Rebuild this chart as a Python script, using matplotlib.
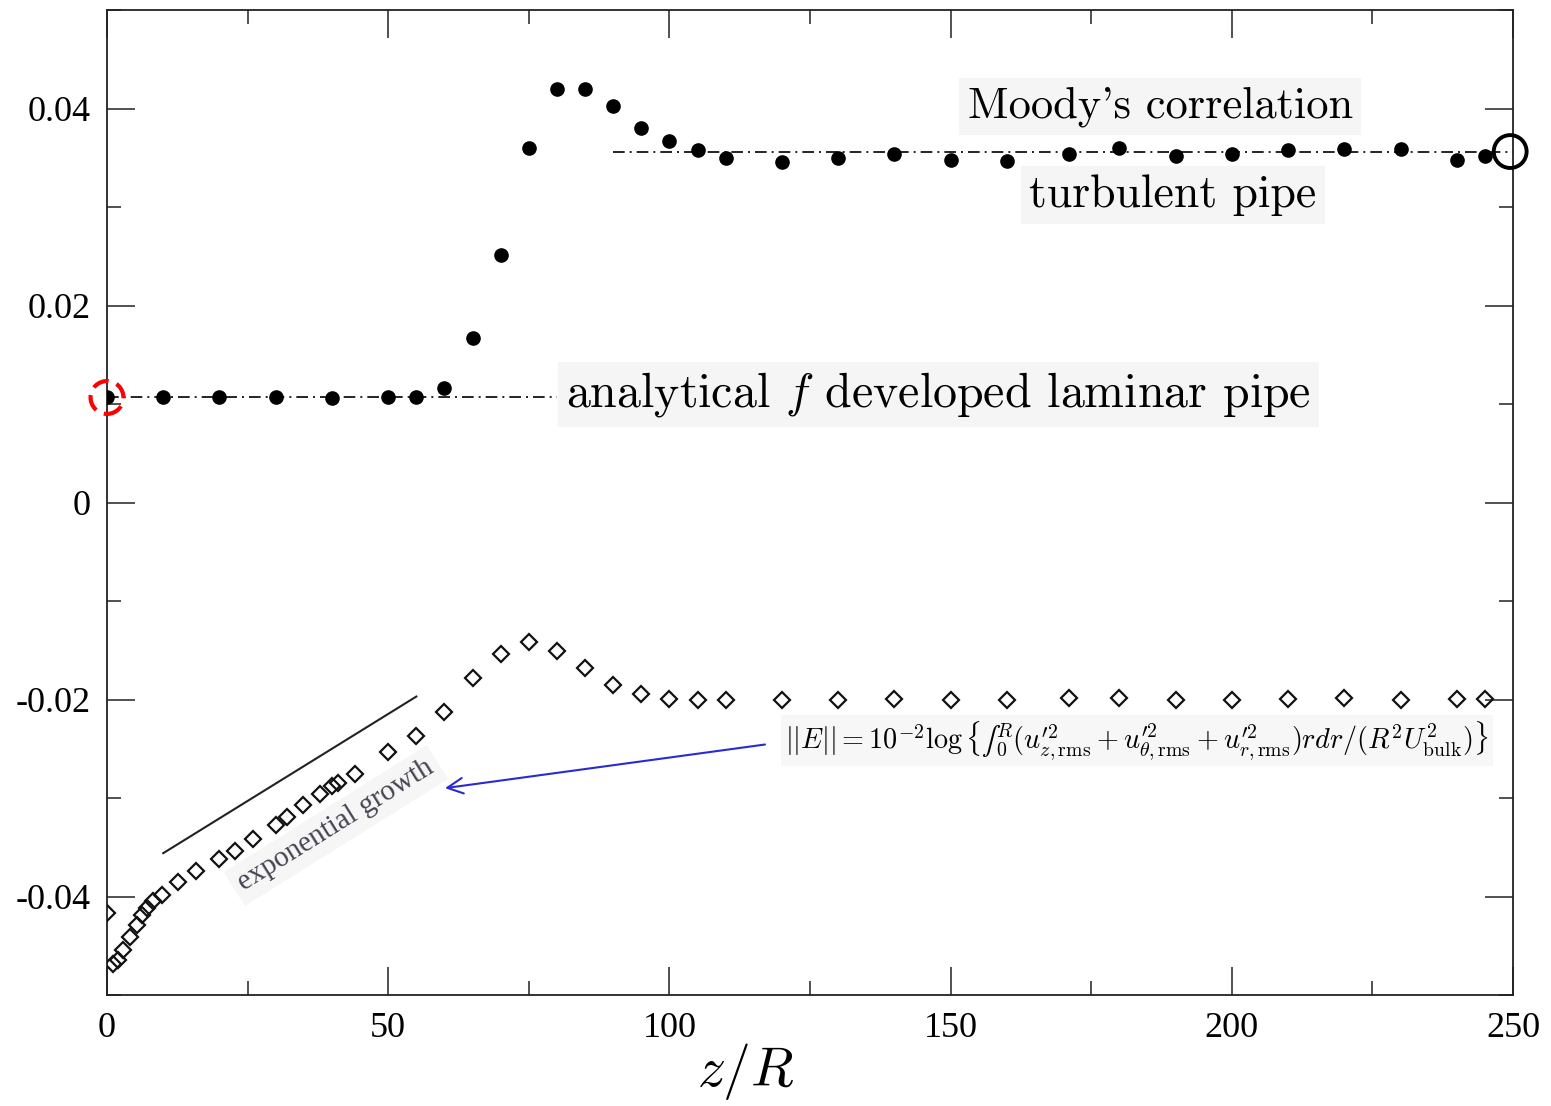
import numpy as np
import matplotlib
matplotlib.use("Agg")
import matplotlib.pyplot as plt
from matplotlib.ticker import MultipleLocator

plt.rcParams['mathtext.fontset'] = 'cm'

# friction factor (filled dots)
z_f = [0, 10, 20, 30, 40, 50, 55, 60, 65, 70, 75, 80, 85, 90, 95, 100, 105, 110,
       120, 130, 140, 150, 160, 171, 180, 190, 200, 210, 220, 230, 240, 245]
f_vals = [0.01066, 0.01066, 0.01066, 0.01066, 0.01056, 0.01066, 0.01076, 0.01167,
          0.01665, 0.02508, 0.03594, 0.04203, 0.04193, 0.04030, 0.03797, 0.03665,
          0.03574, 0.03502, 0.03452, 0.03502, 0.03533, 0.03482, 0.03472, 0.03543,
          0.03604, 0.03513, 0.03533, 0.03574, 0.03584, 0.03584, 0.03482, 0.03513]

# energy norm (open diamonds)
z_e = [0, 1.0, 2.0, 2.9, 4.1, 5.3, 6.2, 7.1, 8.2, 9.7, 12.7, 15.8, 20, 22.8, 25.9,
       30, 32, 34.9, 37.9, 40, 41, 44.1, 50, 55, 60, 65, 70, 75, 80, 85, 90, 95,
       100, 105, 110, 120, 130, 140, 150, 160, 171, 180, 190, 200, 210, 220, 230,
       240, 245]
e_vals = [-0.0417, -0.0469, -0.0464, -0.0454, -0.0441, -0.0429, -0.0419, -0.0412,
          -0.0405, -0.0398, -0.0385, -0.0374, -0.0362, -0.0354, -0.0342, -0.0327,
          -0.0319, -0.0307, -0.0296, -0.0288, -0.0285, -0.0276, -0.0253, -0.0237,
          -0.0213, -0.0178, -0.0154, -0.0142, -0.0151, -0.0168, -0.0185, -0.0194,
          -0.0199, -0.0200, -0.0201, -0.0201, -0.0201, -0.0199, -0.0201, -0.0200,
          -0.0198, -0.0198, -0.0200, -0.0200, -0.0199, -0.0198, -0.0200, -0.0199,
          -0.0199]

# reference levels
f_laminar = 0.01066
f_moody = 0.03563
laminar_range = [0, 80]
moody_range = [90, 250]
growth_z = [10, 55]
growth_y = [-0.0356, -0.0197]

xticks = [0, 50, 100, 150, 200, 250]
xtick_labels = ['0', '50', '100', '150', '200', '250']
yticks = [0.04, 0.02, 0, -0.02, -0.04]
ytick_labels = ['0.04', '0.02', '0', '-0.02', '-0.04']

fig = plt.figure(figsize=(15.51, 11.06), dpi=100)
ax = fig.add_axes([107/1551, 1 - 995/1106, 1406/1551, 985/1106])

dashdot = (0, (7, 3, 1.2, 3))
ax.plot(laminar_range, [f_laminar, f_laminar], color='black', lw=1.2, linestyle=dashdot)
ax.plot(moody_range, [f_moody, f_moody], color='black', lw=1.2, linestyle=dashdot)
ax.plot(growth_z, growth_y, color='#222222', lw=1.5)

ax.plot(z_f, f_vals, 'o', color='black', ms=9.5, zorder=5)
ax.plot(z_e, e_vals, 'D', mfc='none', mec='#111111', mew=1.6, ms=8.3, zorder=5)

# highlighted end points
ax.scatter([0], [f_laminar], s=560, facecolors='none', edgecolors='red',
           linewidths=3, linestyle=(0, (4, 2)), zorder=6, clip_on=False)
ax.scatter([249.5], [f_moody], s=560, facecolors='none', edgecolors='black',
           linewidths=2.8, zorder=6, clip_on=False)

box = dict(facecolor='#f5f5f5', edgecolor='none', pad=6)
ax.text(187.3, 0.0402, "Moody's correlation", family='cmr10', fontsize=32,
        ha='center', va='center', bbox=box)
ax.text(189.5, 0.0312, 'turbulent pipe', family='cmr10', fontsize=33,
        ha='center', va='center', bbox=box)
ax.text(81.6, 0.0110, r'analytical $f$ developed laminar pipe', family='cmr10',
        fontsize=34.5, ha='left', va='center', bbox=box)

ax.text(120.6, -0.0242,
        r'$||E|| = 10^{-2}\log\{∫_0^R(u^{\prime 2}_{z,\mathrm{rms}}+u^{\prime 2}_{\theta,\mathrm{rms}}'
        r'+u^{\prime 2}_{r,\mathrm{rms}})rdr/(R^2U^2_{\mathrm{bulk}})\}$',
        fontsize=20.3, ha='left', va='center',
        bbox=dict(facecolor='#f7f7f7', edgecolor='none', pad=3))

ax.text(40.7, -0.0328, 'exponential growth', family='Liberation Serif', fontsize=21,
        color='#454552', rotation=32, rotation_mode='anchor', ha='center', va='center',
        bbox=dict(facecolor='#f6f6f6', edgecolor='none', pad=5))

ax.annotate('', xy=(60.1, -0.0290), xytext=(117, -0.02457),
            arrowprops=dict(arrowstyle='->', color='#2a2ad0', lw=1.5,
                            mutation_scale=28, shrinkA=0, shrinkB=0))

ax.set_xlim(0, 250)
ax.set_ylim(-0.05, 0.05)
ax.set_xticks(xticks)
ax.set_xticklabels(xtick_labels)
ax.set_yticks(yticks)
ax.set_yticklabels(ytick_labels)
ax.xaxis.set_minor_locator(MultipleLocator(25))
ax.yaxis.set_minor_locator(MultipleLocator(0.01))
ax.tick_params(which='both', direction='in', top=True, right=True, width=1.1, color='#222222')
ax.tick_params(which='major', length=20, labelsize=26, pad=12)
ax.tick_params(which='minor', length=10)
for lab in ax.get_xticklabels() + ax.get_yticklabels():
    lab.set_family('Liberation Serif')
for sp in ax.spines.values():
    sp.set_linewidth(1.3)
    sp.set_color('#222222')

ax.set_xlabel(r'$z/R$', fontsize=40)
ax.xaxis.set_label_coords((746 - 107) / 1406, -0.047)

fig.savefig('out.png', dpi=100)
